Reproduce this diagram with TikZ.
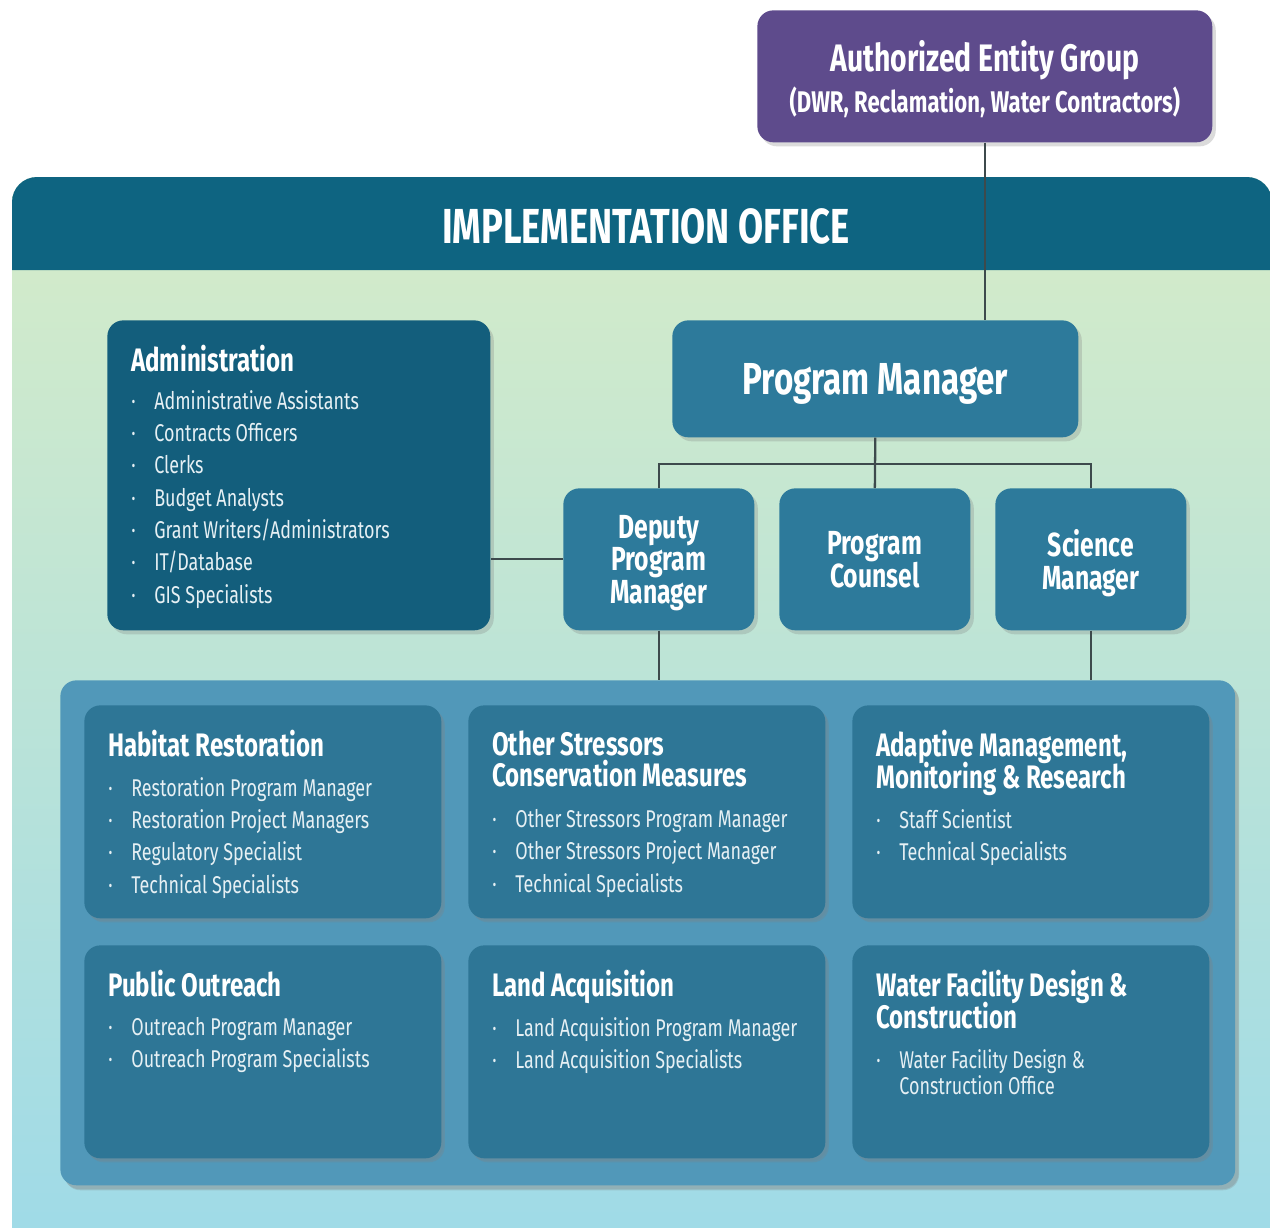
\documentclass[tikz,border=0pt]{standalone}
\usepackage{fontspec}
\setmainfont{Fira Sans}[FakeStretch=0.74]
\usetikzlibrary{calc,positioning,shadows}

\definecolor{aegpurple}{HTML}{5E4B8C}
\definecolor{officehead}{HTML}{0E6481}
\definecolor{officetop}{HTML}{D6ECC8}
\definecolor{officebot}{HTML}{9EDAE8}
\definecolor{adminblue}{HTML}{135E7C}
\definecolor{mgrblue}{HTML}{2D7A9B}
\definecolor{teamblue}{HTML}{5198B9}
\definecolor{unitblue}{HTML}{2E7696}
\definecolor{itemwhite}{HTML}{E6F0F4}
\definecolor{linkgray}{HTML}{3D4A4C}

\newcommand{\bul}{\makebox[0.46cm][l]{·}}
\newcommand{\tightlines}{\lineskiplimit -10pt\relax}

\tikzset{
  box/.style={rounded corners=0.32cm, inner sep=0pt, anchor=north west,
    text=white, align=center, text depth=0pt,
    drop shadow={shadow xshift=0.07cm, shadow yshift=-0.08cm, opacity=0.28}},
  mgrbox/.style={box, fill=mgrblue, minimum width=3.82cm, minimum height=2.84cm,
    font={\fontsize{19}{18.4}\selectfont\bfseries\tightlines}},
  unitbox/.style={box, fill=unitblue, minimum width=7.14cm, minimum height=4.26cm,
    drop shadow={shadow xshift=0.04cm, shadow yshift=-0.05cm, opacity=0.15}},
  unittitle/.style={anchor=north west, inner sep=0pt, align=left, text=white,
    font={\fontsize{18.5}{18.2}\selectfont\bfseries\tightlines}},
  unitlist/.style={anchor=north west, inner sep=0pt, align=left, text=itemwhite,
    font=\fontsize{13.8}{18.4}\selectfont},
  link/.style={draw=linkgray, line width=1.3pt}
}

\begin{document}
\begin{tikzpicture}[x=0.02cm, y=-0.02cm]
  \useasboundingbox (0,0) rectangle (1270,1227);
  \clip (0,0) rectangle (1270,1227);
  \fill[white] (0,0) rectangle (1270,1227);

  % implementation office
  \shade[top color=officetop, bottom color=officebot, rounded corners=0.5cm]
    (12,1260) -- (12,177) -- (1272,177) -- (1272,1260) -- cycle;
  \fill[officehead] (12,270) {[rounded corners=0.5cm] -- (12,177) -- (1272,177)} -- (1272,270) -- cycle;
  \node[text=white, font=\fontsize{28}{30}\selectfont\bfseries] (office) at (646,226) {IMPLEMENTATION OFFICE};

  % top of the chart
  \node[box, fill=aegpurple, minimum width=9.1cm, minimum height=2.64cm] (aeg) at (757,10)
    {{\fontsize{21.8}{22}\selectfont\bfseries Authorized Entity Group}\\[0.1cm]
     {\fontsize{17}{17}\selectfont\bfseries (DWR, Reclamation, Water Contractors)}};
  \node[box, fill=mgrblue, minimum width=8.12cm, minimum height=2.34cm,
    font=\fontsize{25.5}{26}\selectfont\bfseries] (pm) at (672,320) {Program Manager};
  \node[mgrbox] (dep) at (563,488) {Deputy\\Program\\Manager};
  \node[mgrbox] (counsel) at (779,488) {Program\\Counsel};
  \node[mgrbox] (sci) at (995,488) {Science\\Manager};

  % administration
  \node[box, fill=adminblue, minimum width=7.66cm, minimum height=6.2cm] (admin) at (107,320) {};
  \node[unittitle] at ($(admin.north west)+(24,25)$) {Administration};
  \node[unitlist] at ($(admin.north west)+(24,70)$)
    {\bul Administrative Assistants\\\bul Contracts Officers\\\bul Clerks\\\bul Budget Analysts\\
     \bul Grant Writers/Administrators\\\bul IT/Database\\\bul GIS Specialists};

  % program teams
  \node[box, fill=teamblue, minimum width=23.5cm, minimum height=10.1cm,
    drop shadow={shadow xshift=0.08cm, shadow yshift=-0.1cm, opacity=0.25}] (team) at (60,680) {};

  \node[unitbox] (habitat) at (84,705) {};
  \node[unittitle] at ($(habitat.north west)+(24,25)$) {Habitat Restoration};
  \node[unitlist] at ($(habitat.north west)+(24,72)$)
    {\bul Restoration Program Manager\\\bul Restoration Project Managers\\
     \bul Regulatory Specialist\\\bul Technical Specialists};

  \node[unitbox] (stress) at (468,705) {};
  \node[unittitle] at ($(stress.north west)+(24,25)$) {Other Stressors\\Conservation Measures};
  \node[unitlist] at ($(stress.north west)+(24,104)$)
    {\bul Other Stressors Program Manager\\\bul Other Stressors Project Manager\\
     \bul Technical Specialists};

  \node[unitbox] (adapt) at (852,705) {};
  \node[unittitle] at ($(adapt.north west)+(24,25)$) {Adaptive Management,\\Monitoring \& Research};
  \node[unitlist] at ($(adapt.north west)+(24,104)$)
    {\bul Staff Scientist\\\bul Technical Specialists};

  \node[unitbox] (outreach) at (84,945) {};
  \node[unittitle] at ($(outreach.north west)+(24,25)$) {Public Outreach};
  \node[unitlist] at ($(outreach.north west)+(24,72)$)
    {\bul Outreach Program Manager\\\bul Outreach Program Specialists};

  \node[unitbox] (land) at (468,945) {};
  \node[unittitle] at ($(land.north west)+(24,25)$) {Land Acquisition};
  \node[unitlist] at ($(land.north west)+(24,72)$)
    {\bul Land Acquisition Program Manager\\\bul Land Acquisition Specialists};

  \node[unitbox] (water) at (852,945) {};
  \node[unittitle] at ($(water.north west)+(24,25)$) {Water Facility Design \&\\Construction};
  \node[unitlist] at ($(water.north west)+(24,104)$)
    {\bul Water Facility Design \&\\[-0.13cm]\hspace{0.46cm}Construction Office};

  % connectors
  \coordinate (bus) at ($(pm.south)+(0,26)$);
  \draw[link] (aeg.south) -- (aeg.south |- pm.north);
  \draw[link] (pm.south) -- (counsel.north);
  \draw[link] (dep.north) |- (bus) -| (sci.north);
  \draw[link] (dep.west) -- (dep.west -| admin.east);
  \draw[link] (dep.south) -- (dep.south |- team.north);
  \draw[link] (sci.south) -- (sci.south |- team.north);
\end{tikzpicture}
\end{document}
